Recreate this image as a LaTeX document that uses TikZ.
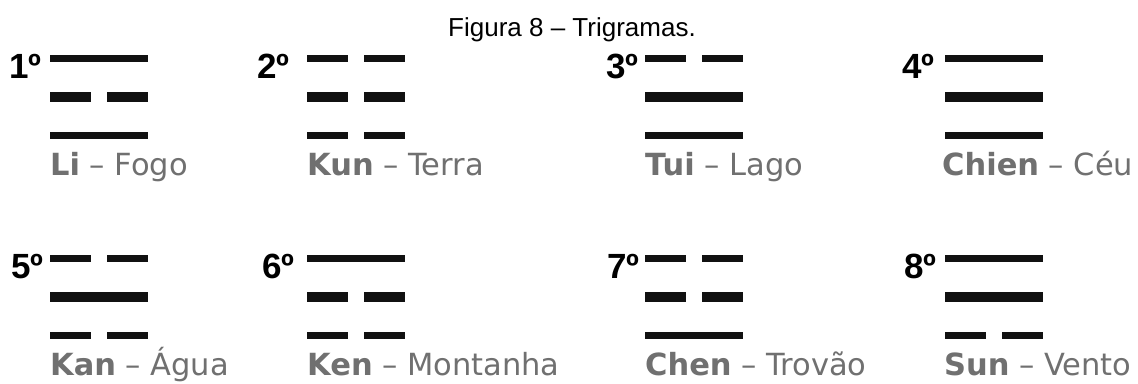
\documentclass[tikz,border=0pt]{standalone}
\usepackage{fontspec}
\setmainfont{Liberation Sans}
\newfontfamily\dvfont{DejaVu Sans}
\definecolor{namegray}{HTML}{707070}
\definecolor{lineblack}{HTML}{111111}
\newcommand\trigline[4]{%
  \ifnum#4=1
    \draw[barline,line width=#3] (#1,#2) -- ++(98,0);
  \else
    \draw[barline,line width=#3] (#1,#2) -- ++(41,0) (#1+57,#2) -- ++(41,0);
  \fi}
\newcommand\trigram[5]{% x, y(top line), top, middle, bottom
  \trigline{#1}{#2}{7pt}{#3}%
  \trigline{#1}{#2+39}{10pt}{#4}%
  \trigline{#1}{#2+77}{7pt}{#5}}
\begin{document}
\begin{tikzpicture}[x=1pt,y=-1pt,
  barline/.style={draw=lineblack,line cap=butt},
  ordlabel/.style={anchor=base west,inner sep=0pt,font=\fontsize{35}{40}\selectfont\bfseries},
  namelabel/.style={anchor=base west,inner sep=0pt,text=namegray,font=\dvfont\fontsize{30.5}{36}\selectfont},
  titlelabel/.style={anchor=base,inner sep=0pt,font=\fontsize{26}{30}\selectfont}]
\useasboundingbox (0,0) rectangle (1138,383);
\fill[white] (0,0) rectangle (1138,383);
\node[titlelabel] (title) at (572,36) {Figura 8 – Trigramas.};
% row 1
\node[ordlabel] (o1) at (9,78) {1º};
\node[ordlabel] (o2) at (257,78) {2º};
\node[ordlabel] (o3) at (606,78) {3º};
\node[ordlabel] (o4) at (902,78) {4º};
\trigram{50}{58}{1}{0}{1}
\trigram{307}{58}{0}{0}{0}
\trigram{645}{58}{0}{1}{1}
\trigram{945}{58}{1}{1}{1}
\node[namelabel] (n1) at (50,175) {\textbf{Li} – Fogo};
\node[namelabel] (n2) at (307,175) {\textbf{Kun} – Terra};
\node[namelabel] (n3) at (645,175) {\textbf{Tui} – Lago};
\node[namelabel] (n4) at (942,175) {\textbf{Chien} – Céu};
% row 2
\node[ordlabel] (o5) at (11,278) {5º};
\node[ordlabel] (o6) at (262,278) {6º};
\node[ordlabel] (o7) at (607,278) {7º};
\node[ordlabel] (o8) at (904,278) {8º};
\trigram{50}{258}{0}{1}{0}
\trigram{307}{258}{1}{0}{0}
\trigram{645}{258}{0}{0}{1}
\trigram{945}{258}{1}{1}{0}
\node[namelabel] (n5) at (50,375) {\textbf{Kan} – Água};
\node[namelabel] (n6) at (307,375) {\textbf{Ken} – Montanha};
\node[namelabel] (n7) at (645,375) {\textbf{Chen} – Trovão};
\node[namelabel] (n8) at (944,375) {\textbf{Sun} – Vento};
\end{tikzpicture}
\end{document}
